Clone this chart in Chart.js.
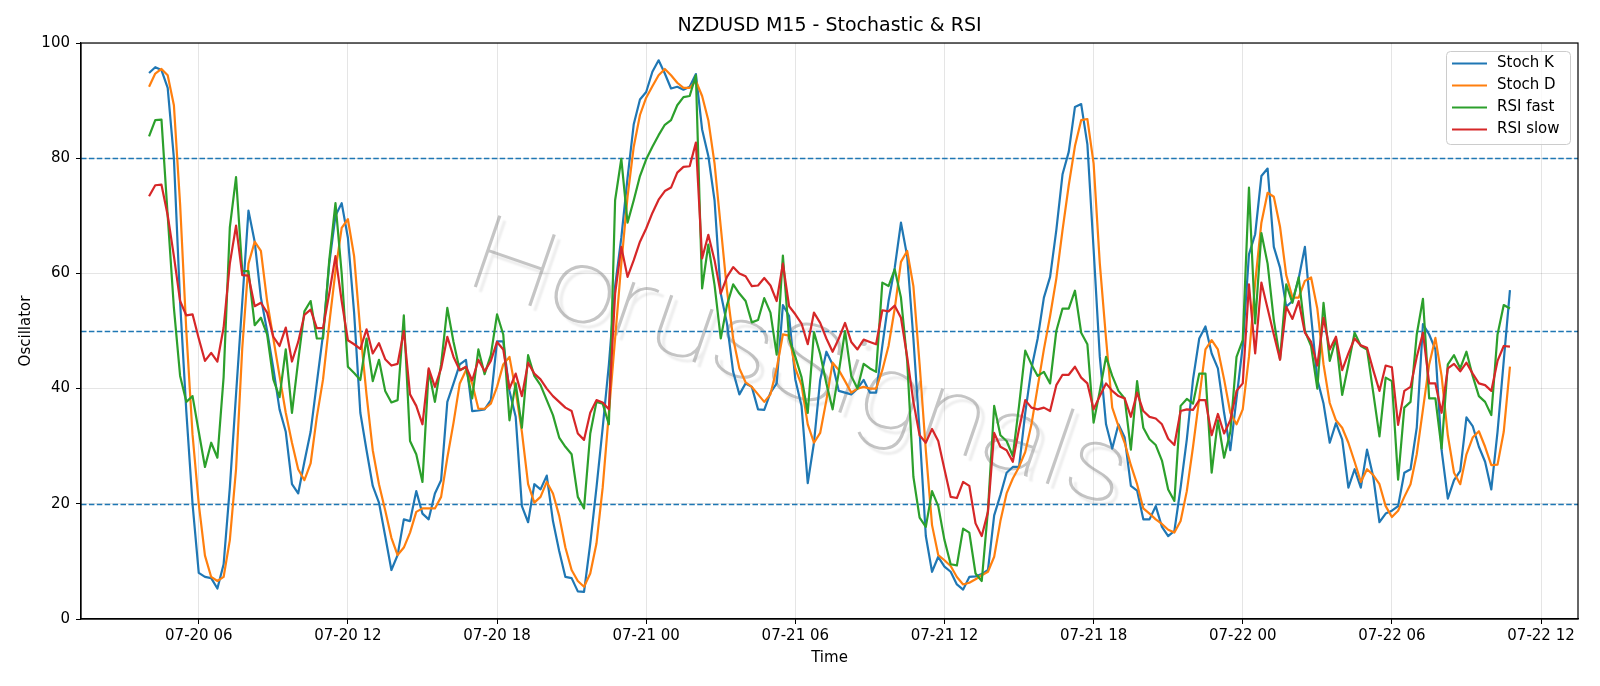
<!DOCTYPE html>
<html>
<head>
<meta charset="utf-8">
<title>NZDUSD M15 - Stochastic & RSI</title>
<script src="https://cdn.jsdelivr.net/npm/chart.js@4.4.0/dist/chart.umd.min.js"></script>
<style>
  html, body { margin: 0; padding: 0; background: #fff; }
  #wrap { width: 1600px; height: 686px; }
</style>
</head>
<body>
<div id="wrap"><canvas id="chart" width="1600" height="686"></canvas></div>
<script>
// 15 min bars, x is hours since 07-20 00:00
const START_HOUR = 4;
const STEP_HOURS = 0.25;

const tickHours = [6, 12, 18, 24, 30, 36, 42, 48, 54, 60];
const tickLabels = ["07-20 06", "07-20 12", "07-20 18", "07-21 00", "07-21 06",
  "07-21 12", "07-21 18", "07-22 00", "07-22 06", "07-22 12"];
const yTicks = [0, 20, 40, 60, 80, 100];
const levels = [20, 50, 80];

const stochK = [
  94.8, 95.8, 95.3, 92.2, 80, 55, 36, 20, 8, 7.3, 7.1, 5.3, 9.5, 22.8, 39, 55, 70.9, 65.5, 55.8, 50,
  43.5, 36.4, 32.5, 23.4, 21.8, 27.3, 32.5, 41, 49.4, 61.7, 70, 72.2, 66.2, 53.2, 35.8, 29.3, 23.1, 20.2, 14.4, 8.5,
  11.1, 17.3, 17, 22.2, 18.3, 17.3, 21.8, 24.1, 37.7, 40.9, 44.2, 45, 36.1, 36.2, 36.4, 38, 48.2, 48.2, 39.6, 35.1,
  19.6, 16.8, 23.4, 22.5, 24.9, 17, 11.8, 7.3, 7.1, 4.8, 4.7, 13.1, 22.8, 33.2, 44.2, 57.8, 66.2, 76.6, 85.9, 90.2,
  91.5, 95, 97, 94.7, 92.1, 92.4, 91.9, 92.4, 94.6, 85, 80.4, 72.7, 56.5, 51.3, 42.9, 39, 40.9, 40.3, 36.4, 36.3,
  39.3, 40.9, 54.5, 52.6, 41.6, 37, 23.6, 30.6, 41.5, 46.4, 44.2, 39.6, 39.3, 39, 40, 41.5, 39.3, 39.3, 47.4, 55.2,
  61, 68.8, 63, 48.7, 32.5, 14.4, 8.2, 10.8, 9.1, 8.2, 6, 5.1, 7.3, 7.4, 7.8, 8.5, 18, 21.5, 25.4, 26.4,
  26.4, 35.8, 43.5, 48.7, 55.8, 59.4, 67.5, 77.2, 81.1, 88.9, 89.4, 82.4, 64.2, 45.5, 33.8, 29.6, 33.8, 31.5, 23.1, 22.3,
  17.3, 17.3, 19.6, 16, 14.4, 15.3, 22.8, 31.2, 41.6, 48.7, 50.8, 46.1, 43.5, 35.8, 29.3, 38.3, 47.4, 63.3, 66.8, 76.9,
  78.2, 64.6, 61, 54.2, 55.2, 59.1, 64.6, 52.6, 41.6, 37.4, 30.6, 34, 31.2, 22.8, 26, 22.8, 29.4, 24.7, 16.8, 18.3,
  18.8, 19.6, 25.4, 26, 33.2, 51.2, 49.4, 46.8, 29.3, 20.9, 24.1, 25.7, 35, 33.5, 29.9, 27.3, 22.5, 32.5, 44.8, 57.1
];

const stochD = [
  92.4, 94.7, 95.5, 94.4, 89.2, 72, 50, 32, 20, 11, 7.3, 6.6, 7.3, 13.7, 26, 47, 61.7, 65.5, 63.9, 55.2,
  48.7, 42.2, 35.8, 30.6, 26, 24.1, 27, 35.1, 41.6, 51.3, 60.4, 67.9, 69.4, 63, 50, 38.9, 29.3, 23.4, 18.9, 14.1,
  11.1, 12.4, 15, 18.6, 19.2, 19.2, 19.2, 21.2, 28, 34.1, 40.9, 43.2, 40.9, 36.5, 36.5, 37.4, 40.3, 44.2, 45.5, 39.6,
  32.5, 23.4, 20.2, 21.2, 23.8, 21.8, 17.9, 12.4, 8.5, 6.6, 5.6, 7.9, 13.1, 22.8, 35.8, 48.7, 61.7, 73.3, 82, 87.5,
  90.5, 92.5, 94.4, 95.5, 94.4, 93.1, 92.2, 92.2, 93.4, 90.8, 86.6, 79.1, 68.1, 57.1, 48.7, 43.5, 41.1, 40.3, 39, 37.7,
  39, 43.5, 49.4, 49.2, 43.5, 40.6, 33.8, 30.6, 32.3, 38, 44.5, 43.2, 41.3, 39.3, 40, 40.3, 40, 40, 43.2, 47.4,
  53.9, 62, 63.9, 57.8, 44.2, 29.3, 16.3, 11.1, 10.2, 9.2, 7.3, 6, 6.3, 6.9, 7.6, 8.2, 10.8, 17, 21.8, 24.4,
  26.4, 29, 33.8, 40.3, 46.8, 52.6, 59.1, 67.5, 75.3, 82.1, 86.6, 86.8, 79.1, 61.7, 48.7, 36.7, 33.5, 30.6, 26.7, 23.4,
  19.2, 18.3, 17.3, 16.5, 15.5, 15, 17, 22.2, 29.9, 38.3, 46.8, 48.4, 46.8, 41.6, 35.8, 33.8, 36.4, 45.5, 58.4, 68.8,
  74, 73.3, 68.1, 59.7, 55.8, 55.8, 58.7, 59.3, 53.9, 44.2, 37.5, 34.5, 33.2, 30.6, 27.3, 23.8, 26, 25, 23.4, 19.6,
  17.7, 18.8, 21.2, 23.4, 28.6, 36.4, 44.2, 48.8, 42.2, 31.9, 25.4, 23.4, 28.6, 31.5, 32.6, 29.9, 26.7, 26.8, 32.5, 43.8
];

const rsiFast = [
  83.8, 86.6, 86.7, 70, 54, 42.2, 37.7, 38.7, 32.5, 26.4, 30.6, 28, 42, 68, 76.7, 60.4, 60.4, 51, 52.3, 49.4,
  41.6, 38.5, 46.8, 35.8, 44.8, 53.4, 55.2, 48.7, 48.7, 62.3, 72.2, 60, 43.8, 42.7, 41.5, 48.7, 41.3, 45, 39.6, 37.6,
  38, 52.7, 30.9, 28.6, 23.8, 43.2, 37.7, 44.2, 54, 48.1, 43.2, 43.7, 38.3, 46.8, 42.5, 45.8, 52.9, 49.4, 34.5, 40.9,
  33.2, 45.8, 42.2, 40.6, 38, 35.4, 31.5, 29.9, 28.6, 21.2, 19.2, 32.2, 37.7, 37.4, 33.8, 72.7, 79.9, 68.8, 72.7, 76.9,
  79.8, 82, 84, 85.8, 86.6, 89.2, 90.6, 90.8, 94.4, 57.4, 65, 58, 48.7, 54.5, 58.1, 56.5, 55.2, 51.5, 51.9, 55.7,
  53.2, 45.9, 63.1, 48.7, 45.5, 42, 35.8, 49.8, 46, 40.9, 36.4, 42.9, 50, 42.2, 40, 44.3, 43.5, 42.9, 58.4, 57.8,
  60.7, 55.8, 44.8, 24.7, 17.6, 16, 22.2, 19.6, 13.7, 9.5, 9.3, 15.7, 15, 7.9, 6.6, 18.9, 37, 31.9, 30.9, 28.3,
  37, 46.6, 44.2, 42.2, 42.9, 40.9, 50, 53.9, 53.9, 57, 49.7, 47.7, 34.1, 39.6, 45.5, 42.2, 39.6, 38.3, 29.4, 41.3,
  33.2, 31.2, 30.2, 27.5, 22.5, 20.5, 37, 38.2, 37.4, 42.6, 42.6, 25.4, 34.5, 28, 32.5, 45.5, 48.4, 74.9, 51.3, 67,
  61.7, 51.9, 45.1, 58.1, 54.9, 59.3, 50, 47.4, 40, 54.9, 44.8, 48.7, 38.9, 44.2, 49.7, 47.4, 46.8, 39.3, 31.7, 41.9,
  41.3, 24.2, 36.7, 37.7, 49.4, 55.6, 38.3, 38.3, 29.6, 44.2, 45.8, 43.5, 46.4, 42.2, 38.7, 37.7, 35.4, 49.4, 54.5, 53.9
];

const rsiSlow = [
  73.4, 75.3, 75.4, 70.1, 63, 55.2, 52.7, 52.9, 48.7, 44.8, 46.2, 44.7, 50.6, 61.7, 68.3, 59.7, 59.6, 54.3, 54.9, 53.2,
  49, 47.4, 50.6, 44.7, 48.1, 52.8, 53.7, 50.5, 50.5, 56.5, 63, 55.2, 48.4, 47.7, 46.9, 50.3, 46.1, 47.9, 45.1, 44,
  44.3, 50, 39, 37, 33.8, 43.5, 40.3, 43.5, 49, 45.5, 43.2, 43.8, 41.4, 45, 43, 44.8, 48.1, 46.8, 40, 42.6,
  38.7, 44.5, 42.6, 41.6, 40, 38.7, 37.7, 36.7, 36.1, 32.2, 31.1, 35.8, 38, 37.6, 36.4, 56.5, 64.6, 59.4, 62.3, 65.5,
  67.8, 70.5, 72.8, 74.3, 74.9, 77.5, 78.5, 78.6, 82.7, 62.6, 66.7, 62.3, 56.5, 59.4, 61.1, 60, 59.5, 57.8, 57.9, 59.2,
  57.9, 55.2, 61.7, 54.3, 52.9, 51.3, 47.7, 53.2, 51.4, 48.7, 46.4, 48.7, 51.4, 48.1, 46.8, 48.5, 48.1, 47.7, 53.6, 53.4,
  54.4, 52.3, 45.5, 37.7, 31.9, 30.6, 33, 30.9, 26, 21.2, 21, 23.8, 23.1, 16.6, 14.4, 18.6, 32.3, 29.9, 29.3, 27.3,
  33, 38, 36.7, 36.4, 36.7, 36.1, 40.6, 42.4, 42.4, 43.8, 41.9, 40.9, 36.4, 38.7, 40.9, 39.6, 38.7, 38.3, 35.1, 39.3,
  36.1, 35.1, 34.8, 33.8, 31.3, 30.2, 36.1, 36.4, 36.3, 38, 38, 31.9, 35.6, 32.2, 34.5, 39.6, 40.9, 58.1, 46.1, 58.4,
  53.9, 49.4, 45, 54.2, 52.1, 55.2, 49.7, 48.1, 44, 52.3, 46.8, 49, 43.2, 46.1, 48.7, 47.5, 47.1, 43.2, 39.6, 44,
  43.7, 33.7, 39.6, 40.3, 45.5, 49.7, 40.9, 40.9, 35.8, 43.5, 44.3, 43, 44.5, 42.6, 40.9, 40.6, 39.6, 44.8, 47.4, 47.3
];

const times = stochK.map((_, i) => START_HOUR + i * STEP_HOURS);
const xSpan = times[times.length - 1] - times[0];

const FONT = '"DejaVu Sans", sans-serif';
const TITLE = "NZDUSD M15 - Stochastic & RSI";
const WATERMARK = "HorusSignals";
Chart.defaults.font.family = FONT;
Chart.defaults.color = "#000";

const series = [
  { label: "Stoch K", data: stochK, color: "#1f77b4", order: 4 },
  { label: "Stoch D", data: stochD, color: "#ff7f0e", order: 3 },
  { label: "RSI fast", data: rsiFast, color: "#2ca02c", order: 2 },
  { label: "RSI slow", data: rsiSlow, color: "#d62728", order: 1 },
];

// white page, title over the axes, level lines, watermark, frame and legend
const decor = {
  id: "decor",
  beforeDraw(chart) {
    const { ctx, chartArea: a } = chart;
    ctx.save();
    ctx.fillStyle = "#fff";
    ctx.fillRect(0, 0, chart.width, chart.height);
    ctx.fillStyle = "#000";
    ctx.font = "19px " + FONT;
    ctx.textAlign = "center";
    ctx.textBaseline = "middle";
    ctx.fillText(TITLE, (a.left + a.right) / 2, 26.5);
    ctx.restore();
  },
  beforeDatasetsDraw(chart) {
    const { ctx, chartArea: a, scales } = chart;
    ctx.save();
    // watermark, thin grey letters with a soft shadow, stretched to the wide look
    ctx.translate(789, 395);
    ctx.rotate(19 * Math.PI / 180);
    ctx.font = '100 106px Roboto, ' + FONT;
    const tw = ctx.measureText(WATERMARK).width;
    ctx.scale(690 / tw, 1);
    ctx.textAlign = "center";
    ctx.textBaseline = "alphabetic";
    ctx.shadowColor = "rgba(0,0,0,0.15)";
    ctx.shadowOffsetX = 5;
    ctx.shadowOffsetY = 5;
    ctx.shadowBlur = 2;
    ctx.fillStyle = "rgba(140,140,140,0.5)";
    ctx.fillText(WATERMARK, 0, 0);
    ctx.restore();

    ctx.save();
    ctx.strokeStyle = "#1f77b4";
    ctx.lineWidth = 1.4;
    ctx.setLineDash([5.5, 2.4]);
    levels.forEach(v => {
      const y = Math.round(scales.y.getPixelForValue(v)) + 0.5;
      ctx.beginPath();
      ctx.moveTo(a.left, y);
      ctx.lineTo(a.right, y);
      ctx.stroke();
    });
    ctx.restore();
  },
  afterDraw(chart) {
    const { ctx, chartArea: a } = chart;
    ctx.save();
    ctx.strokeStyle = "#000";
    ctx.lineWidth = 1.2;
    ctx.strokeRect(a.left, a.top, a.right - a.left, a.bottom - a.top);

    // legend box
    const w = 124, h = 93;
    const bx = a.right - 8 - w, by = a.top + 8;
    ctx.beginPath();
    ctx.roundRect(bx + 0.5, by + 0.5, w, h, 4);
    ctx.fillStyle = "rgba(255,255,255,0.8)";
    ctx.fill();
    ctx.strokeStyle = "#cccccc";
    ctx.lineWidth = 1;
    ctx.stroke();
    ctx.font = "15px " + FONT;
    ctx.textBaseline = "middle";
    ctx.textAlign = "left";
    series.forEach((s, i) => {
      const y = by + 12.5 + i * 22;
      ctx.strokeStyle = s.color;
      ctx.lineWidth = 2.2;
      ctx.beginPath();
      ctx.moveTo(bx + 6, y);
      ctx.lineTo(bx + 41, y);
      ctx.stroke();
      ctx.fillStyle = "#000";
      ctx.fillText(s.label, bx + 51, y);
    });
    ctx.restore();
  }
};

new Chart(document.getElementById("chart"), {
  type: "line",
  data: {
    datasets: series.map(s => ({
      label: s.label,
      data: s.data.map((v, i) => ({ x: times[i], y: v })),
      borderColor: s.color,
      backgroundColor: s.color,
      borderWidth: 2.2,
      borderJoinStyle: "round",
      pointRadius: 0,
      tension: 0,
      order: s.order,
    })),
  },
  options: {
    responsive: false,
    animation: false,
    devicePixelRatio: 1,
    layout: { padding: { left: 0, right: 22, top: 43, bottom: 0 } },
    plugins: {
      legend: { display: false },
      tooltip: { enabled: false },
      title: { display: false },
    },
    scales: {
      x: {
        type: "linear",
        min: times[0] - 0.05 * xSpan,
        max: times[times.length - 1] + 0.05 * xSpan,
        afterBuildTicks(scale) {
          scale.ticks = tickHours.map(v => ({ value: v }));
        },
        afterFit(scale) { scale.height = 67; },
        ticks: {
          autoSkip: false,
          maxRotation: 0,
          padding: 3,
          font: { size: 15 },
          color: "#000",
          callback: v => tickLabels[tickHours.indexOf(v)],
        },
        grid: { color: "rgba(0,0,0,0.1)", lineWidth: 1, tickColor: "#000", tickLength: 5 },
        border: { display: true, color: "#000", width: 1.2 },
        title: { display: true, text: "Time", font: { size: 15 }, color: "#000", padding: { top: 0, bottom: 19 } },
      },
      y: {
        min: 0,
        max: 100,
        afterBuildTicks(scale) {
          scale.ticks = yTicks.map(v => ({ value: v }));
        },
        afterFit(scale) { scale.width = 81; },
        ticks: { padding: 6, font: { size: 15 }, color: "#000" },
        grid: { color: "rgba(0,0,0,0.1)", lineWidth: 1, tickColor: "#000", tickLength: 5 },
        border: { display: true, color: "#000", width: 1.2 },
        title: { display: true, text: "Oscillator", font: { size: 15 }, color: "#000", padding: { top: 17, bottom: 0 } },
      },
    },
  },
  plugins: [decor],
});
</script>
</body>
</html>
